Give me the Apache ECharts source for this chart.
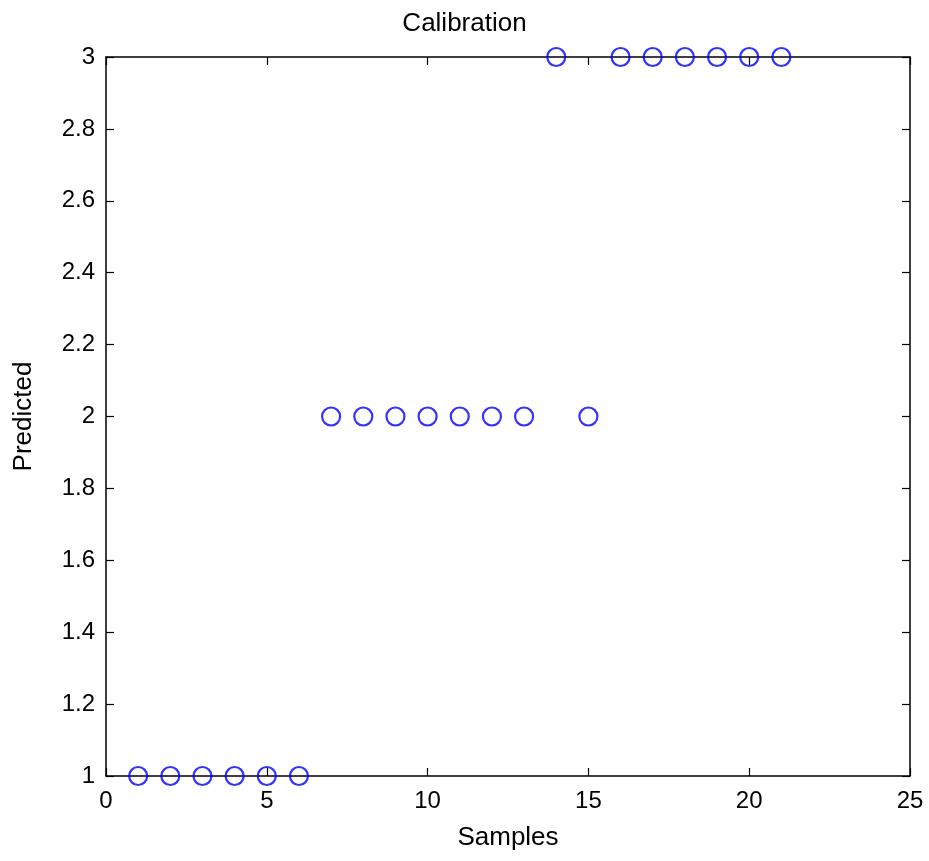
<!DOCTYPE html>
<html><head><meta charset="utf-8">
<script src="https://cdn.jsdelivr.net/npm/echarts@6/dist/echarts.min.js"></script>
<style>html,body{margin:0;padding:0;background:#fff}#c{width:929px;height:861px}</style>
</head><body><div id="c"></div>
<script>
const samples = [1,2,3,4,5,6,7,8,9,10,11,12,13,14,15,16,17,18,19,20,21];
const predicted = [1,1,1,1,1,1,2,2,2,2,2,2,2,3,2,3,3,3,3,3,3];
const xTicks = [0,5,10,15,20,25];
const yTicks = [1,1.2,1.4,1.6,1.8,2,2.2,2.4,2.6,2.8,3];
const font = 'Liberation Sans, Arial, sans-serif';
const chart = echarts.init(document.getElementById('c'));
function axisCommon(){
  return {
    axisLine:{show:true,onZero:false,lineStyle:{color:'#000',width:1.5}},
    axisTick:{show:true,inside:true,length:8,lineStyle:{color:'#000',width:1.2}},
    splitLine:{show:false}
  };
}
chart.setOption({
  backgroundColor:'#fff',
  animation:false,
  title:{text:'Calibration',left:'center',top:6,textStyle:{fontFamily:font,fontSize:26,fontWeight:'normal',color:'#000'}},
  grid:{left:106,right:19,top:57,bottom:85},
  xAxis:[
    Object.assign({type:'value',min:xTicks[0],max:xTicks[xTicks.length-1],interval:5,position:'bottom',
      name:'Samples',nameLocation:'middle',nameGap:49,nameTextStyle:{fontFamily:font,fontSize:26,color:'#000'},
      axisLabel:{fontFamily:font,fontSize:24,color:'#000',margin:13}},axisCommon()),
    Object.assign({type:'value',min:0,max:25,interval:5,position:'top',axisLabel:{show:false}},axisCommon())
  ],
  yAxis:[
    Object.assign({type:'value',min:yTicks[0],max:yTicks[yTicks.length-1],interval:0.2,position:'left',
      name:'Predicted',nameLocation:'middle',nameGap:69,nameTextStyle:{fontFamily:font,fontSize:26,color:'#000'},
      axisLabel:{fontFamily:font,fontSize:24,color:'#000',margin:11,formatter:v=>String(Math.round(v*10)/10)}},axisCommon()),
    Object.assign({type:'value',min:1,max:3,interval:0.2,position:'right',axisLabel:{show:false}},axisCommon())
  ],
  series:[{
    type:'scatter',
    data:samples.map((s,i)=>[s,predicted[i]]),
    symbol:'circle',symbolSize:18,
    clip:false,z:10,
    itemStyle:{color:'rgba(0,0,0,0)',borderColor:'#0000ff',borderWidth:2.2}
  }]
});
</script></body></html>
